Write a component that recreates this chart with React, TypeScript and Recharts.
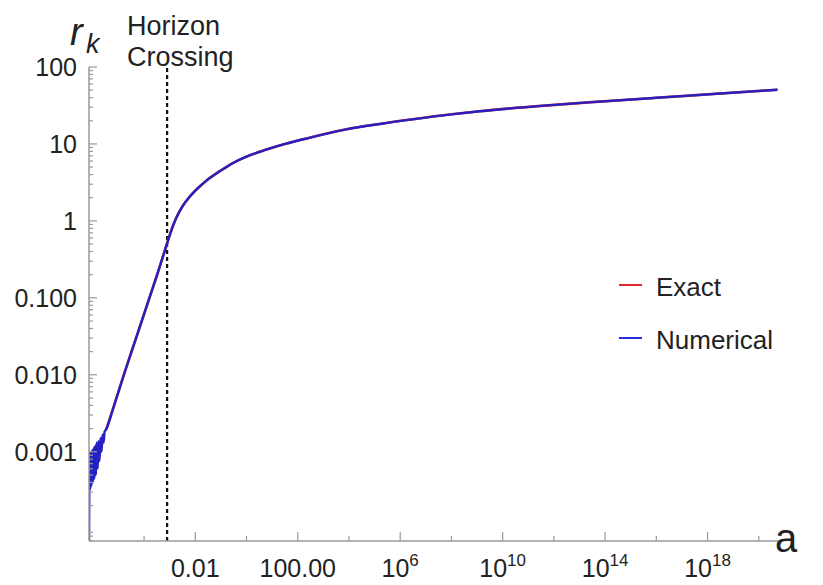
import React from "react";
import { LineChart, Line, XAxis, YAxis, ReferenceLine } from "recharts";

// values, stored as log10 exponents
const numericalLogA = [
  -6.15, -6.14, -6.13, -6.11, -6.09, -6.06, -6.03, -6.0, -5.97, -5.94, -5.91, -5.88, -5.85, -5.81,
  -5.78, -5.74, -5.7, -5.66, -5.62, -5.58, -5.54, -5.48, -5.2, -4.77, -4.3, -3.8, -3.5, -3.28, -3.08,
  -2.9, -2.75, -2.5, -2.23, -1.9, -1.58, -1.0, -0.54, 0.0, 0.76, 1.5, 2.45, 3.9, 5.2, 6.48, 8.0, 9.1,
  11.5, 13.78, 16.0, 18.5, 20.73,
];
const numericalLogR = [
  -4.16, -3.6, -3.0, -3.5, -3.02, -3.45, -2.98, -3.4, -2.95, -3.35, -2.92, -3.3, -2.88, -3.22,
  -2.86, -3.12, -2.82, -3.0, -2.78, -2.88, -2.74, -2.71, -2.43, -1.98, -1.51, -1.01, -0.71, -0.48, -0.27,
  -0.09, 0.035, 0.19, 0.31, 0.425, 0.52, 0.655, 0.75, 0.835, 0.925, 1.0, 1.08, 1.19, 1.26, 1.32, 1.385,
  1.425, 1.495, 1.55, 1.6, 1.655, 1.705,
];
const exactLogA = [
  -5.48, -5.2, -4.77, -4.3, -3.8, -3.5, -3.28, -3.08, -2.9, -2.75, -2.5, -2.23, -1.9, -1.58, -1.0,
  -0.54, 0.0, 0.76, 1.5, 2.45, 3.9, 5.2, 6.48, 8.0, 9.1, 11.5, 13.78, 16.0, 18.5, 20.73,
];
const exactLogR = [
  -2.71, -2.43, -1.98, -1.51, -1.01, -0.71, -0.48, -0.27, -0.09, 0.035, 0.19, 0.31, 0.425, 0.52, 0.655,
  0.75, 0.835, 0.925, 1.0, 1.08, 1.19, 1.26, 1.32, 1.385, 1.425, 1.495, 1.55, 1.6, 1.655, 1.705,
];

const horizonCrossingA = 10 ** -3.1;

const xMajorTicks = [1e-2, 1e2, 1e6, 1e10, 1e14, 1e18];
const xTickBase = ["0.01", "100.00", "10", "10", "10", "10"];
const xTickExp = ["", "", "6", "10", "14", "18"];
const xMinorTicks = [1e-4, 1, 1e4, 1e8, 1e12, 1e16, 1e20];

const yMajorTicks = [0.001, 0.01, 0.1, 1, 10, 100];
const yTickLabels = ["0.001", "0.010", "0.100", "1", "10", "100"];
const yDecades = [1e-5, 1e-4, 1e-3, 1e-2, 1e-1, 1, 10];

const X_DOMAIN = [10 ** -6.15, 10 ** 20.75];
const Y_DOMAIN = [10 ** -4.16, 100];

const numericalData = numericalLogA.map((la, i) => ({ a: 10 ** la, r: 10 ** numericalLogR[i] }));
const exactData = exactLogA.map((la, i) => ({ a: 10 ** la, r: 10 ** exactLogR[i] }));

const yMinorTicks = yDecades
  .flatMap(d => [2, 3, 4, 5, 6, 7, 8, 9].map(m => m * d))
  .filter(v => v > Y_DOMAIN[0] && v < Y_DOMAIN[1]);

const FONT = "'Liberation Sans', Arial, sans-serif";
const AXIS = "#9a9a9a";
const TEXT = "#222";
const EXACT_COLOR = "#e02a2a";
const NUMERICAL_COLOR = "#2520c2";
const legendItems = [
  { name: "Exact", color: EXACT_COLOR },
  { name: "Numerical", color: "#2a2ae0" },
];

const XTick = ({ x, y, payload }: any) => {
  const idx = xMajorTicks.findIndex(t => Math.abs(Math.log10(t) - Math.log10(payload.value)) < 1e-6);
  if (idx < 0) {
    return <line x1={x} x2={x} y1={y} y2={y - 5} stroke={AXIS} strokeWidth={1.2} />;
  }
  return <g>
      <line x1={x} x2={x} y1={y} y2={y - 9} stroke={AXIS} strokeWidth={1.2} />
      <text x={x} y={y + 36} textAnchor="middle" fontFamily={FONT} fontSize={25} fill={TEXT}>
        <tspan>{xTickBase[idx]}</tspan>
        {xTickExp[idx] && <tspan dy={-11} fontSize={17}>{xTickExp[idx]}</tspan>}
      </text>
    </g>;
};

const YTick = ({ x, y, payload }: any) => {
  const idx = yMajorTicks.findIndex(t => Math.abs(Math.log10(t) - Math.log10(payload.value)) < 1e-6);
  if (idx < 0) {
    return <line x1={x} x2={x + 4} y1={y} y2={y} stroke={AXIS} strokeWidth={1.2} />;
  }
  return <g>
      <line x1={x} x2={x + 8} y1={y} y2={y} stroke={AXIS} strokeWidth={1.2} />
      <text x={x - 12} y={y} dy={9} textAnchor="end" fontFamily={FONT} fontSize={25} fill={TEXT}>
        {yTickLabels[idx]}
      </text>
    </g>;
};

export default function App() {
  return <div style={{ position: "absolute", left: 0, top: 0, width: 823, height: 585, background: "#fff" }}>
      <LineChart width={823} height={585} margin={{ top: 67, right: 45, bottom: 0, left: 0 }}>
        <XAxis dataKey="a" type="number" scale="log" domain={X_DOMAIN} allowDataOverflow
          ticks={[...xMajorTicks, ...xMinorTicks]} interval={0} tick={<XTick />}
          tickLine={false} tickSize={0} tickMargin={0} height={44}
          axisLine={{ stroke: AXIS, strokeWidth: 1.5 }} />
        <YAxis dataKey="r" type="number" scale="log" domain={Y_DOMAIN} allowDataOverflow
          ticks={[...yMajorTicks, ...yMinorTicks]} interval={0} tick={<YTick />}
          tickLine={false} tickSize={0} tickMargin={0} width={89}
          axisLine={{ stroke: AXIS, strokeWidth: 1.5 }} />
        <ReferenceLine x={horizonCrossingA} stroke="#111" strokeWidth={2.2} strokeDasharray="4 3" />
        <Line data={exactData} dataKey="r" name="Exact" type="monotone" stroke={EXACT_COLOR}
          strokeWidth={2.6} dot={false} isAnimationActive={false} />
        <Line data={numericalData} dataKey="r" name="Numerical" type="monotone" stroke={NUMERICAL_COLOR}
          strokeWidth={2.4} dot={false} isAnimationActive={false} />
      </LineChart>
      <svg width={823} height={585} style={{ position: "absolute", left: 0, top: 0, pointerEvents: "none" }}>
        <text x={70} y={45} fontFamily={FONT} fontStyle="italic" fontSize={38} fill={TEXT}>r</text>
        <text x={86} y={53} fontFamily={FONT} fontStyle="italic" fontSize={27} fill={TEXT}>k</text>
        <text x={127} y={35} fontFamily={FONT} fontSize={27} fill={TEXT}>Horizon</text>
        <text x={127} y={66} fontFamily={FONT} fontSize={27} fill={TEXT}>Crossing</text>
        <text x={775} y={552} fontFamily={FONT} fontSize={40} fill={TEXT}>a</text>
        {legendItems.map((item, i) => <g key={item.name} transform={`translate(610, ${260 + i * 53})`}>
            <line x1={9} x2={32} y1={25} y2={25} stroke={item.color} strokeWidth={2} />
            <text x={46} y={36} fontFamily={FONT} fontSize={26} fill={TEXT}>{item.name}</text>
          </g>)}
      </svg>
    </div>;
}
